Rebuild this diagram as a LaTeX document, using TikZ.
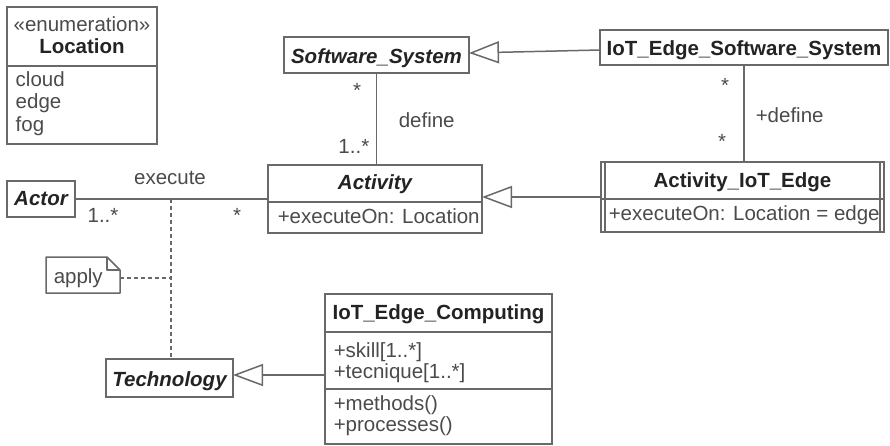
\documentclass[tikz,border=0pt]{standalone}
\usepackage{fontspec}
\setmainfont{Liberation Sans}
\usetikzlibrary{arrows.meta,calc}
\definecolor{linec}{RGB}{105,105,105}
\definecolor{txt}{RGB}{75,75,75}
\definecolor{btxt}{RGB}{35,35,35}
\begin{document}
\begin{tikzpicture}[x=1pt,y=-1pt,line width=1.5pt,
  font=\fontsize{20.5}{22}\selectfont,
  box/.style={draw=linec,rectangle,inner sep=0pt,outer sep=0pt},
  tl/.style={text=txt,inner sep=0pt,anchor=base west},
  tc/.style={text=txt,inner sep=0pt,anchor=base},
  ttl/.style={text=btxt,inner sep=0pt,anchor=base,font=\fontsize{20.5}{22}\selectfont\bfseries},
  ttli/.style={text=btxt,inner sep=0pt,anchor=base,font=\fontsize{20.5}{22}\selectfont\bfseries\itshape},
  conn/.style={draw=linec},
  gen/.style={draw=linec,-{Triangle[open,length=30pt,width=22pt,line width=1.5pt]}},
  dsh/.style={draw=linec,dash pattern=on 4pt off 3pt}]
\useasboundingbox (0,0) rectangle (890,445);
\fill[white] (0,0) rectangle (890,445);

% Location enumeration
\node[box,minimum width=150pt,minimum height=137pt] (loc) at (82,75.5) {};
\draw[linec] (loc.west |- 0,66) -- (loc.east |- 0,66);
\node[tc] (locst) at (82,31) {«enumeration»};
\node[ttl] (locname) at (82,53) {Location};
\node[tl] (cloud) at (15,86) {cloud};
\node[tl] (edge) at (15,108.5) {edge};
\node[tl] (fog) at (15,131) {fog};

% Software_System
\node[box,minimum width=185pt,minimum height=36pt] (ss) at (376.5,55) {};
\node[ttli] (sst) at (376.5,63) {Software\_System};

% IoT_Edge_Software_System
\node[box,minimum width=288pt,minimum height=35pt] (ies) at (744,47.5) {};
\node[ttl] (iest) at (744,55) {IoT\_Edge\_Software\_System};

% Activity
\node[box,minimum width=214pt,minimum height=68pt] (act) at (375,199) {};
\draw[linec] (act.west |- 0,202) -- (act.east |- 0,202);
\node[ttli] (actt) at (375,189) {Activity};
\node[tl] (acta) at (277,223) {+executeOn: Location};

% Activity_IoT_Edge
\node[box,minimum width=283pt,minimum height=70pt] (aie) at (742.5,197) {};
\draw[linec] (aie.west |- 0,199) -- (aie.east |- 0,199);
\draw[linec] (605,162) -- (605,232);
\draw[linec] (880,162) -- (880,232);
\node[ttl] (aiet) at (742.5,187) {Activity\_IoT\_Edge};
\node[tl] (aiea) at (608,220) {+executeOn: Location = edge};

% Actor
\node[box,minimum width=68pt,minimum height=36pt] (actor) at (41,199) {};
\node[ttli] (actort) at (41,205) {Actor};

% Technology
\node[box,minimum width=127pt,minimum height=38pt] (tech) at (169.5,378) {};
\node[ttli] (techt) at (169.5,386) {Technology};

% IoT_Edge_Computing
\node[box,minimum width=227pt,minimum height=150pt] (iec) at (438.5,369) {};
\draw[linec] (iec.west |- 0,332) -- (iec.east |- 0,332);
\draw[linec] (iec.west |- 0,389) -- (iec.east |- 0,389);
\node[ttl] (iect) at (438.5,319) {IoT\_Edge\_Computing};
\node[tl] (skill) at (333,357) {+skill[1..*]};
\node[tl] (tecn) at (333,378) {+tecnique[1..*]};
\node[tl] (meth) at (333,410) {+methods()};
\node[tl] (proc) at (333,431) {+processes()};

% note
\node[inner sep=0pt,outer sep=0pt,minimum width=74pt,minimum height=36pt] (note) at (83,275) {};
\draw[linec,line join=round] (note.north west) -- (107,257) -- (120,270) -- (note.south east) -- (note.south west) -- cycle;
\draw[linec,line join=round] (107,257) -- (107,270) -- (120,270);
\node[tl] (notet) at (53,283) {apply};

% generalizations
\draw[gen] ($(ies.west)+(0,2.5)$) -- ($(ss.east)+(0,-2)$);
\draw[gen] (aie.west) -- (aie.west -| act.east);
\draw[gen] ($(iec.west)+(0,6)$) -- ($(tech.east)+(0,-3)$);

% associations
\draw[conn] (ss.south) -- (ss.south |- act.north);
\draw[conn] (ies.south) -- (ies.south |- aie.north);
\draw[conn] (actor.east) -- (act.west);

% labels
\node[tc] (m1) at (357,97) {*};
\node[tl] (def) at (398,127) {define};
\node[tc,anchor=base east] (m2) at (370,153) {1..*};
\node[tc] (m3) at (725,92) {*};
\node[tc] (m4) at (722,148) {*};
\node[tl] (pdef) at (755,122) {+define};
\node[tc] (exe) at (170,184) {execute};
\node[tc] (m5) at (103,222) {1..*};
\node[tc] (m6) at (237,222) {*};

% association class link
\coordinate (j) at (171,199);
\draw[dsh] (j) -- (j |- tech.north);
\draw[dsh] ($(note.east)+(0,3)$) -- ($(note.east -| j)+(0,3)$);
\end{tikzpicture}
\end{document}
